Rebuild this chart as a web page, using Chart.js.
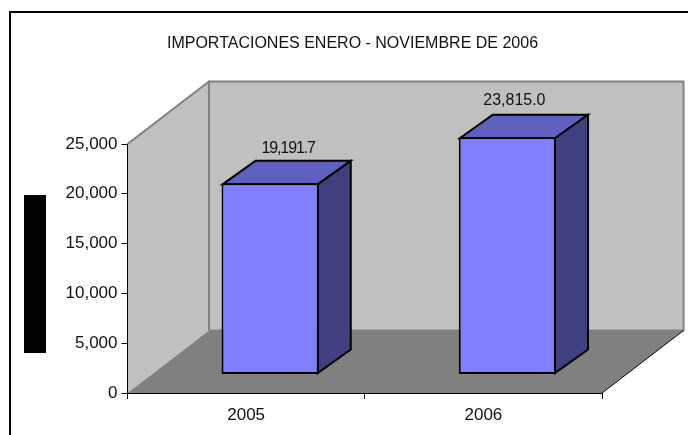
<!DOCTYPE html>
<html>
<head>
<meta charset="utf-8">
<script src="https://cdn.jsdelivr.net/npm/chart.js@4/dist/chart.umd.min.js"></script>
<style>
  html, body { margin: 0; padding: 0; background: #fff; overflow: hidden; }
  canvas { display: block; }
</style>
</head>
<body>
<canvas id="myChart" width="688" height="435"></canvas>
<script>
const categories = ['2005', '2006'];
const importaciones = [19191.7, 23815.0];
const titleText = 'IMPORTACIONES ENERO - NOVIEMBRE DE 2006';

// fake 3D look, in pixels
const wallDx = 81.5, wallDy = 62.5;
const barShiftX = 24, barShiftY = -18.5;
const barDx = 33, barDy = 23.5;
const labelShift = [[18, -35], [7, -37]];
const labelSpacing = ['-1.1px', '0px'];

function poly(ctx, pts, fill) {
  ctx.beginPath();
  pts.forEach((p, i) => i ? ctx.lineTo(p[0], p[1]) : ctx.moveTo(p[0], p[1]));
  ctx.closePath();
  if (fill) { ctx.fillStyle = fill; ctx.fill(); }
}

function line(ctx, pts, color, width) {
  ctx.beginPath();
  pts.forEach((p, i) => i ? ctx.lineTo(p[0], p[1]) : ctx.moveTo(p[0], p[1]));
  ctx.strokeStyle = color;
  ctx.lineWidth = width;
  ctx.stroke();
}

const walls = {
  id: 'walls',
  afterLayout(chart) {
    // the title is not centred on the plot in the original
    chart.titleBlock.left = 17;
    chart.titleBlock.right = 688;
  },
  beforeDraw(chart) {
    const ctx = chart.ctx;
    const { left, right, top, bottom } = chart.chartArea;
    ctx.save();
    ctx.fillStyle = '#fff';
    ctx.fillRect(0, 0, chart.width, chart.height);

    line(ctx, [[10, chart.height], [10, 12], [chart.width, 12]], '#000', 2);
    ctx.fillStyle = '#000';
    ctx.fillRect(24, 195, 22, 158);

    const bl = left + wallDx, br = right + wallDx, bt = top - wallDy, bb = bottom - wallDy;
    poly(ctx, [[bl, bt], [br, bt], [br, bb], [bl, bb]], '#c0c0c0');
    poly(ctx, [[left, top], [bl, bt], [bl, bb], [left, bottom]], '#c0c0c0');
    poly(ctx, [[left, bottom], [bl, bb], [br, bb], [right, bottom]], '#808080');
    line(ctx, [[left, top], [bl, bt], [bl, bb]], '#808080', 2);
    line(ctx, [[bl, bt], [br, bt], [br, bb], [bl, bb]], '#808080', 2);
    line(ctx, [[br, bb], [right, bottom]], '#000', 1);
    ctx.restore();
  },
  beforeDatasetDraw(chart, args) {
    const ctx = chart.ctx;
    ctx.save();
    ctx.translate(barShiftX, barShiftY);
    args.meta.data.forEach(bar => {
      const l = bar.x - bar.width / 2 + 1, r = bar.x + bar.width / 2 - 1;
      const t = bar.y + 1, b = bar.base - 1;
      ctx.lineJoin = 'miter';
      poly(ctx, [[l, t], [l + barDx, t - barDy], [r + barDx, t - barDy], [r, t]], '#6060c0');
      ctx.strokeStyle = '#000'; ctx.lineWidth = 2; ctx.stroke();
      poly(ctx, [[r, t], [r + barDx, t - barDy], [r + barDx, b - barDy], [r, b]], '#404080');
      ctx.stroke();
    });
  },
  afterDatasetDraw(chart) {
    chart.ctx.restore();
  },
  afterDatasetsDraw(chart) {
    const ctx = chart.ctx;
    ctx.save();
    ctx.font = '16px "Liberation Sans"';
    ctx.fillStyle = '#111';
    ctx.textAlign = 'center';
    ctx.textBaseline = 'middle';
    chart.getDatasetMeta(0).data.forEach((bar, i) => {
      const txt = importaciones[i].toLocaleString('en-US', { minimumFractionDigits: 1 });
      ctx.letterSpacing = labelSpacing[i];
      ctx.fillText(txt, bar.x + barShiftX + labelShift[i][0], bar.y + barShiftY + labelShift[i][1]);
    });
    ctx.restore();
  }
};

const ctx = document.getElementById('myChart').getContext('2d');
const chart = new Chart(ctx, {
  type: 'bar',
  data: {
    labels: categories,
    datasets: [
      {
        label: 'Importaciones',
        data: importaciones,
        backgroundColor: '#8080ff',
        borderColor: '#000',
        borderWidth: 2,
        borderSkipped: false,
        barPercentage: 0.41,
        categoryPercentage: 1,
        clip: false
      }
    ]
  },
  options: {
    responsive: false,
    animation: false,
    layout: { padding: { left: 0, right: 86, top: 0, bottom: 0 } },
    plugins: {
      legend: { display: false },
      tooltip: { enabled: false },
      title: {
        display: true,
        text: titleText,
        color: '#111',
        font: { family: '"Liberation Sans"', size: 16, weight: 'normal', lineHeight: 1.2 },
        padding: { top: 34.4, bottom: 90.4 }
      }
    },
    scales: {
      x: {
        grid: {
          drawOnChartArea: false,
          drawTicks: true,
          tickLength: 6,
          color: c => c.index === categories.length ? '#808080' : '#000'
        },
        border: { color: '#000', width: 1 },
        ticks: { color: '#111', padding: 6, font: { family: '"Liberation Sans"', size: 17 } },
        afterFit(scale) { scale.height = 42; }
      },
      y: {
        min: 0,
        max: 25000,
        grid: { drawOnChartArea: false, drawTicks: true, tickLength: 6, color: '#000' },
        border: { color: '#000', width: 1 },
        ticks: {
          color: '#111',
          stepSize: 5000,
          padding: 4,
          font: { family: '"Liberation Sans"', size: 17 },
          callback: v => v.toLocaleString('en-US')
        },
        afterFit(scale) { scale.width = 127.5; }
      }
    }
  },
  plugins: [walls]
});
</script>
</body>
</html>
